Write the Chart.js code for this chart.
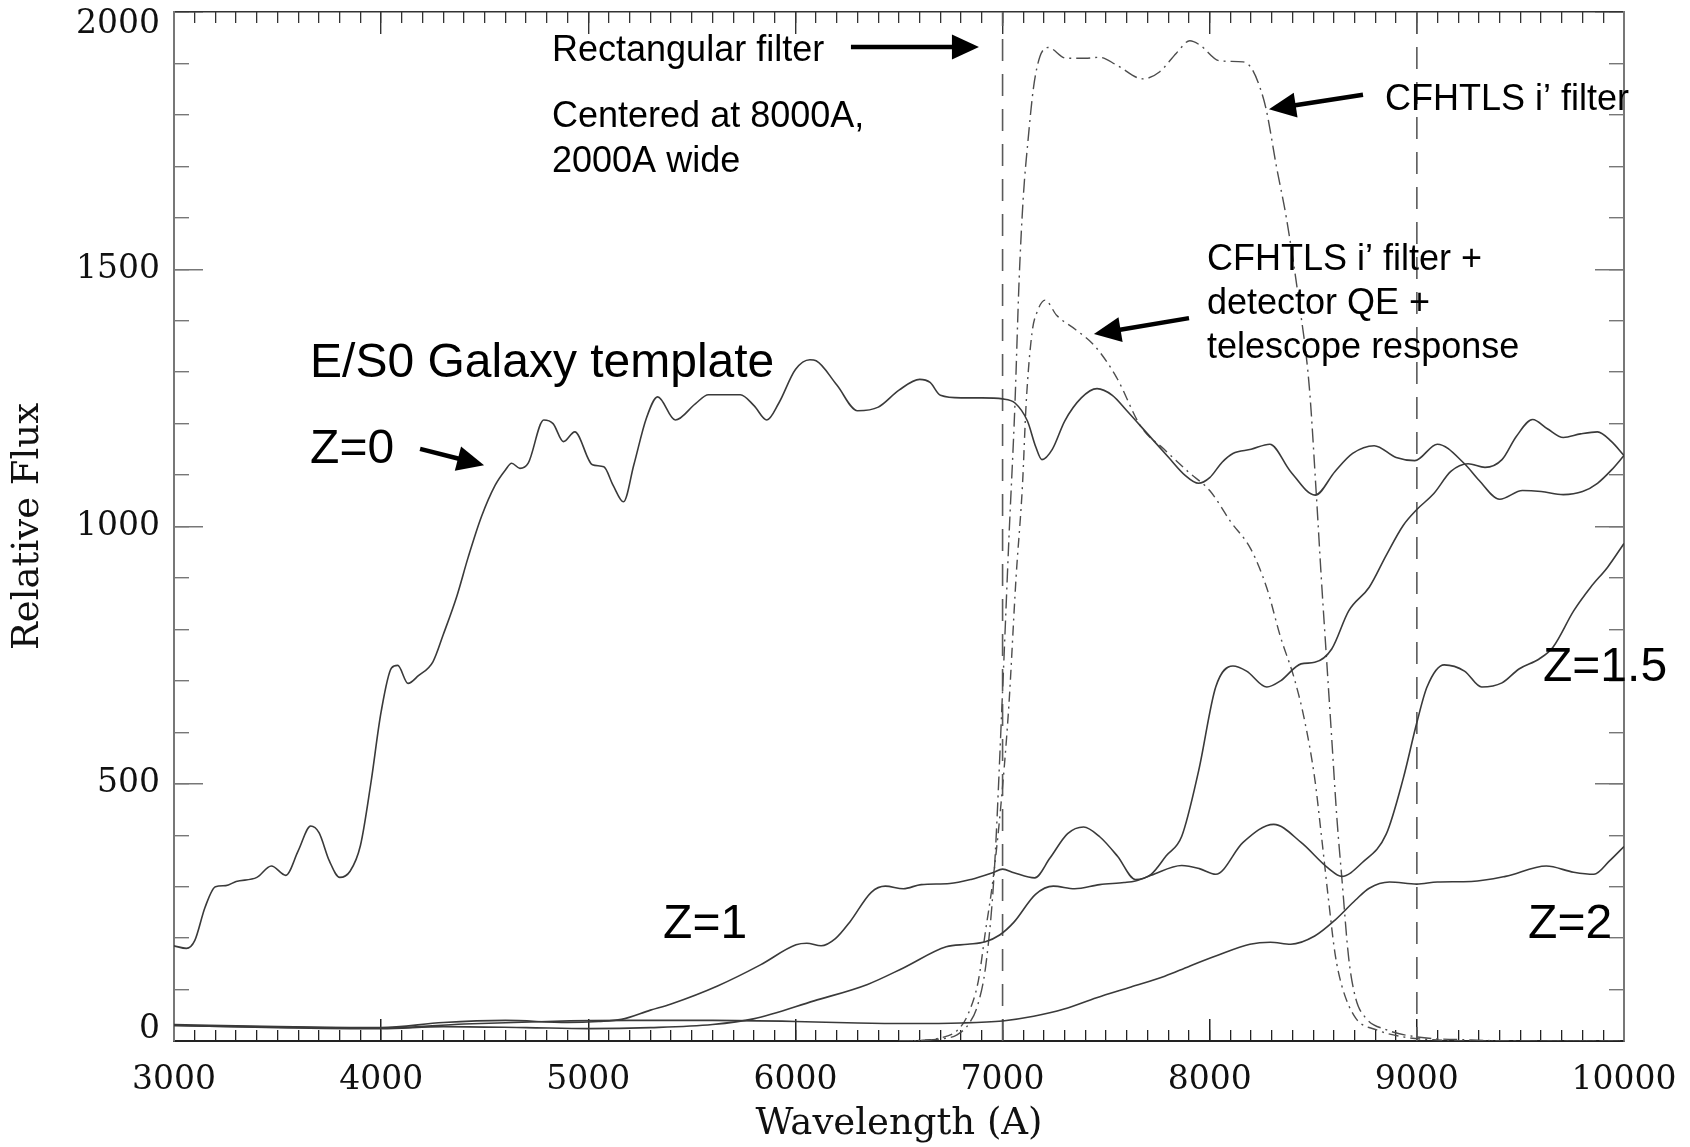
<!DOCTYPE html>
<html>
<head>
<meta charset="utf-8">
<title>E/S0 galaxy template and i' filter response</title>
<style>
  html, body { margin: 0; padding: 0; background: #ffffff; }
  #wrap { width: 1690px; height: 1147px; }
  canvas { display: block; }
</style>
<script src="https://cdn.jsdelivr.net/npm/chart.js@4/dist/chart.umd.min.js"></script>
</head>
<body>
<div id="wrap"><canvas id="flux" width="1690" height="1147"></canvas></div>
<script>
// ---- E/S0 template redshifted to z = 0, 1, 1.5, 2 (wavelength in Å, relative flux) ----
const z0Wave = [3000,3060,3100,3150,3200,3250,3300,3400,3470,3540,3600,3660,3700,3750,3800,3850,3900,3950,4000,4050,4080,4130,4180,4250,4300,4365,4420,4484,4550,4600,4630,4670,4710,4785,4830,4880,4935,5020,5075,5120,5170,5220,5280,5335,5420,5518,5580,5734,5800,5862,5920,6000,6070,6100,6200,6300,6400,6500,6600,6650,6700,6800,6900,7000,7060,7120,7160,7190,7240,7300,7380,7456,7530,7600,7700,7800,7880,7946,8000,8060,8112,8200,8290,8390,8509,8605,8690,8794,8900,8990,9099,9230,9300,9400,9510,9600,9707,9800,9872,9940,10000];
const z0Flux = [185,180,195,260,300,302,310,318,340,322,370,418,405,350,318,330,380,500,640,725,730,695,710,737,790,864,940,1019,1080,1110,1123,1113,1123,1207,1200,1165,1184,1120,1116,1080,1048,1120,1210,1252,1207,1239,1256,1256,1235,1207,1240,1305,1324,1322,1275,1225,1232,1265,1286,1280,1255,1250,1250,1248,1240,1205,1155,1130,1150,1205,1250,1268,1255,1225,1180,1135,1100,1084,1095,1125,1142,1150,1160,1107,1061,1107,1142,1157,1134,1128,1160,1122,1090,1053,1070,1068,1062,1068,1084,1110,1138];

const z1Wave = [3000,3500,4000,4300,4600,4900,5050,5160,5300,5400,5624,5831,6003,6055,6124,6193,6262,6366,6434,6521,6607,6745,6848,6952,7000,7055,7155,7228,7314,7391,7469,7555,7641,7717,7790,7865,7947,8029,8112,8178,8276,8342,8441,8507,8589,8671,8770,8852,8934,9000,9082,9164,9247,9329,9411,9480,9559,9630,9707,9790,9872,9940,10000];
const z1Flux = [32,28,26,36,40,36,38,42,60,72,107,148,187,190,185,199,231,289,301,296,304,306,314,327,334,327,317,355,403,416,397,359,314,324,360,398,526,688,729,719,688,700,733,736,762,836,882,944,1002,1033,1064,1107,1122,1115,1130,1175,1208,1190,1173,1180,1184,1165,1138];

const z15Wave = [3000,3500,4000,4300,4700,5000,5300,5600,5797,6090,6348,6521,6728,6831,6917,6986,7055,7159,7245,7348,7469,7586,7641,7717,7865,7950,8029,8161,8309,8441,8572,8638,8737,8852,8934,9000,9049,9132,9230,9313,9411,9493,9592,9658,9757,9839,9921,10000];
const z15Flux = [30,26,24,28,26,24,26,32,43,78,110,142,183,188,193,206,231,285,301,296,304,308,311,322,341,335,324,386,421,386,336,320,347,402,510,619,688,731,719,688,696,723,743,766,836,882,921,967];

const z2Wave = [3000,3500,4000,4400,4800,5200,5600,6000,6300,6538,6800,7000,7150,7297,7454,7620,7783,7900,8029,8194,8293,8391,8507,8605,8704,8770,8868,9000,9099,9263,9428,9625,9757,9855,9930,10000];
const z2Flux = [30,27,25,33,38,40,40,38,35,34,35,39,48,62,84,105,126,145,165,188,192,188,204,235,274,297,309,305,309,310,320,340,328,324,350,378];

// ---- Filter curves ----
const iFilterWave = [6500,6600,6700,6780,6840,6880,6920,6960,7000,7031,7059,7080,7100,7123,7150,7180,7220,7308,7400,7469,7550,7678,7759,7839,7904,7952,8048,8161,8201,8241,8273,8322,8370,8430,8481,8515,8539,8564,8589,8614,8638,8671,8704,8753,8852,9000,9263,9500,10000];
const iFilterFlux = [0,1,4,12,35,70,150,330,680,980,1230,1480,1640,1751,1855,1913,1931,1910,1910,1912,1897,1870,1884,1920,1944,1936,1905,1903,1891,1855,1810,1700,1600,1440,1270,1060,898,743,588,433,316,161,84,45,22,8,2,0,0];

const iTotalWave = [6500,6600,6700,6780,6831,6883,6917,6952,6990,7030,7065,7096,7114,7142,7170,7205,7262,7355,7447,7550,7668,7780,7900,8000,8100,8200,8276,8342,8408,8457,8507,8539,8572,8605,8638,8704,8803,8934,9100,9300,10000];
const iTotalFlux = [0,1,6,20,50,117,212,308,450,650,900,1080,1240,1376,1420,1440,1410,1382,1350,1290,1194,1150,1105,1070,1010,955,880,785,705,625,510,400,280,170,107,45,22,8,2,0,0];

// Rectangular filter, 7000–9000 Å (top edge sits on the frame)
const rectWave = [7000, 7000, 8000, 9000, 9000];
const rectFlux = [0, 2000, null, 2000, 0];

// ---- Axis ticks ----
const xTickValues = [3000,4000,5000,6000,7000,8000,9000,10000];
const xTickLabels = ['3000','4000','5000','6000','7000','8000','9000','10000'];
const yTickValues = [0,500,1000,1500,2000];
const yTickLabels = ['0','500','1000','1500','2000'];

// ---- Text notes and arrows, anchored in data coordinates (wavelength, flux) ----
const SANS = "'Liberation Sans', Arial, Helvetica, sans-serif";
const SERIF = "'DejaVu Serif', 'Liberation Serif', serif";
const notes = [
  { text: 'Rectangular filter',   wl: 4825, f: 1905, size: 36 },
  { text: 'Centered at 8000A,',   wl: 4825, f: 1776, size: 36 },
  { text: '2000A wide',           wl: 4825, f: 1689, size: 36 },
  { text: 'CFHTLS i\u2019 filter',   wl: 8846, f: 1810, size: 36 },
  { text: 'CFHTLS i\u2019 filter +', wl: 7987, f: 1499, size: 36 },
  { text: 'detector QE +',        wl: 7987, f: 1413, size: 36 },
  { text: 'telescope response',   wl: 7987, f: 1327, size: 36 },
  { text: 'E/S0 Galaxy template', wl: 3657, f: 1291, size: 48 },
  { text: 'Z=0',                  wl: 3657, f: 1123, size: 48 },
  { text: 'Z=1',                  wl: 5361, f: 200,  size: 48 },
  { text: 'Z=1.5',                wl: 9609, f: 700,  size: 48 },
  { text: 'Z=2',                  wl: 9537, f: 200,  size: 48 }
];
const arrows = [
  { from: [6268, 1932], to: [6886, 1932] },
  { from: [8740, 1839], to: [8286, 1811] },
  { from: [7900, 1405], to: [7441, 1374] },
  { from: [4188, 1151], to: [4497, 1119] }
];

const pts = (w, f) => w.map((x, i) => ({ x: x, y: f[i] }));

const galaxyStyle = {
  showLine: true, pointRadius: 0, borderColor: '#3a3a3a', borderWidth: 1.6,
  cubicInterpolationMode: 'monotone', fill: false, xAxisID: 'x', yAxisID: 'y'
};
const filterStyle = {
  showLine: true, pointRadius: 0, borderColor: '#4d4d4d', borderWidth: 1.4,
  cubicInterpolationMode: 'monotone', fill: false, xAxisID: 'x', yAxisID: 'y'
};

const datasets = [
  Object.assign({ label: 'Z=0',   data: pts(z0Wave, z0Flux) }, galaxyStyle),
  Object.assign({ label: 'Z=1',   data: pts(z1Wave, z1Flux) }, galaxyStyle),
  Object.assign({ label: 'Z=1.5', data: pts(z15Wave, z15Flux) }, galaxyStyle),
  Object.assign({ label: 'Z=2',   data: pts(z2Wave, z2Flux) }, galaxyStyle),
  Object.assign({ label: 'CFHTLS i\u2019 filter', data: pts(iFilterWave, iFilterFlux) }, filterStyle, { borderDash: [14, 5, 2, 5] }),
  Object.assign({ label: 'i\u2019 + QE + telescope', data: pts(iTotalWave, iTotalFlux) }, filterStyle, { borderDash: [10, 5, 2, 5] }),
  { label: 'Rectangular filter', data: pts(rectWave, rectFlux), showLine: true, pointRadius: 0,
    borderColor: '#5a5a5a', borderWidth: 1.6, borderDash: [22, 13], spanGaps: false, tension: 0,
    fill: false, xAxisID: 'x', yAxisID: 'y' }
];

// Fixed box sizes for every axis so the plot frame lands where intended
function fixBox(prop, px) {
  return function (scale) {
    scale[prop] = px;
    scale.paddingLeft = 0; scale.paddingRight = 0;
    scale.paddingTop = 0; scale.paddingBottom = 0;
  };
}
// Inward-pointing tick marks only (no grid across the plot)
function inwardTicks(len, color, width) {
  return { display: true, drawOnChartArea: false, drawTicks: true, tickLength: -len, color: color, lineWidth: width };
}
const majorX = s => { s.ticks = xTickValues.map(v => ({ value: v })); };
const majorY = s => { s.ticks = yTickValues.map(v => ({ value: v })); };
const hidden = { display: false };

const notesPlugin = {
  id: 'notes',
  afterDraw(chart) {
    const ctx = chart.ctx;
    const xs = chart.scales.x, ys = chart.scales.y;
    ctx.save();
    ctx.fillStyle = '#000';
    ctx.strokeStyle = '#000';
    ctx.textAlign = 'left';
    ctx.textBaseline = 'alphabetic';
    notes.forEach(n => {
      ctx.font = n.size + 'px ' + SANS;
      ctx.fillText(n.text, xs.getPixelForValue(n.wl), ys.getPixelForValue(n.f));
    });
    arrows.forEach(a => {
      const x0 = xs.getPixelForValue(a.from[0]), y0 = ys.getPixelForValue(a.from[1]);
      const x1 = xs.getPixelForValue(a.to[0]),   y1 = ys.getPixelForValue(a.to[1]);
      const ang = Math.atan2(y1 - y0, x1 - x0);
      const head = 27, half = 12.5;
      const bx = x1 - head * Math.cos(ang), by = y1 - head * Math.sin(ang);
      ctx.lineWidth = 4.5;
      ctx.lineCap = 'butt';
      ctx.beginPath();
      ctx.moveTo(x0, y0);
      ctx.lineTo(bx + 2 * Math.cos(ang), by + 2 * Math.sin(ang));
      ctx.stroke();
      ctx.beginPath();
      ctx.moveTo(x1, y1);
      ctx.lineTo(bx + half * Math.sin(ang), by - half * Math.cos(ang));
      ctx.lineTo(bx - half * Math.sin(ang), by + half * Math.cos(ang));
      ctx.closePath();
      ctx.fill();
    });
    ctx.restore();
  }
};

new Chart(document.getElementById('flux'), {
  type: 'scatter',
  data: { datasets: datasets },
  plugins: [notesPlugin],
  options: {
    responsive: false,
    animation: false,
    devicePixelRatio: 1,
    events: [],
    layout: { padding: 0 },
    elements: { line: { borderJoinStyle: 'round', borderCapStyle: 'butt' } },
    plugins: { legend: { display: false }, tooltip: { enabled: false }, title: { display: false } },
    scales: {
      x: {
        type: 'linear', position: 'bottom', weight: 1, min: 3000, max: 10000,
        afterBuildTicks: majorX,
        ticks: {
          autoSkip: false, maxRotation: 0, minRotation: 0, padding: 42, color: '#111',
          font: { family: SERIF, size: 33 },
          callback: (v, i) => xTickLabels[i]
        },
        grid: inwardTicks(22, '#222', 1.5),
        border: { display: true, color: '#222', width: 2 },
        title: { display: true, text: 'Wavelength (A)', color: '#111',
                 font: { family: SERIF, size: 37 }, padding: { top: 0, bottom: 0 } },
        afterFit: fixBox('height', 106)
      },
      xMinor: {
        type: 'linear', position: 'bottom', weight: 0, min: 3000, max: 10000,
        ticks: { display: false, stepSize: 100, maxTicksLimit: 1000 },
        grid: inwardTicks(11, '#222', 1.3),
        border: hidden,
        afterFit: fixBox('height', 0)
      },
      xTop: {
        type: 'linear', position: 'top', weight: 1, min: 3000, max: 10000,
        afterBuildTicks: majorX,
        ticks: { display: false },
        grid: inwardTicks(22, '#333', 1.4),
        border: { display: true, color: '#333', width: 1.5 },
        afterFit: fixBox('height', 12)
      },
      xTopMinor: {
        type: 'linear', position: 'top', weight: 0, min: 3000, max: 10000,
        ticks: { display: false, stepSize: 100, maxTicksLimit: 1000 },
        grid: inwardTicks(11, '#333', 1.3),
        border: hidden,
        afterFit: fixBox('height', 0)
      },
      y: {
        type: 'linear', position: 'left', weight: 1, min: 0, max: 2000,
        afterBuildTicks: majorY,
        ticks: {
          padding: 43, color: '#111',
          font: { family: SERIF, size: 33, lineHeight: 0.73 },
          callback: (v, i, t) => i === 0 ? [yTickLabels[i], '']
                               : (i === t.length - 1 ? ['', yTickLabels[i]] : yTickLabels[i])
        },
        grid: inwardTicks(29, '#777', 1.5),
        border: { display: true, color: '#777', width: 2 },
        title: { display: true, text: 'Relative Flux', color: '#111',
                 font: { family: SERIF, size: 37 }, padding: { top: 6, bottom: 0 } },
        afterFit: fixBox('width', 174)
      },
      yMinor: {
        type: 'linear', position: 'left', weight: 0, min: 0, max: 2000,
        ticks: { display: false, stepSize: 100, maxTicksLimit: 1000 },
        grid: inwardTicks(15, '#777', 1.4),
        border: hidden,
        afterFit: fixBox('width', 0)
      },
      yRight: {
        type: 'linear', position: 'right', weight: 1, min: 0, max: 2000,
        afterBuildTicks: majorY,
        ticks: { display: false },
        grid: inwardTicks(29, '#777', 1.5),
        border: { display: true, color: '#777', width: 2 },
        afterFit: fixBox('width', 66)
      },
      yRightMinor: {
        type: 'linear', position: 'right', weight: 0, min: 0, max: 2000,
        ticks: { display: false, stepSize: 100, maxTicksLimit: 1000 },
        grid: inwardTicks(15, '#777', 1.4),
        border: hidden,
        afterFit: fixBox('width', 0)
      }
    }
  }
});
</script>
</body>
</html>
